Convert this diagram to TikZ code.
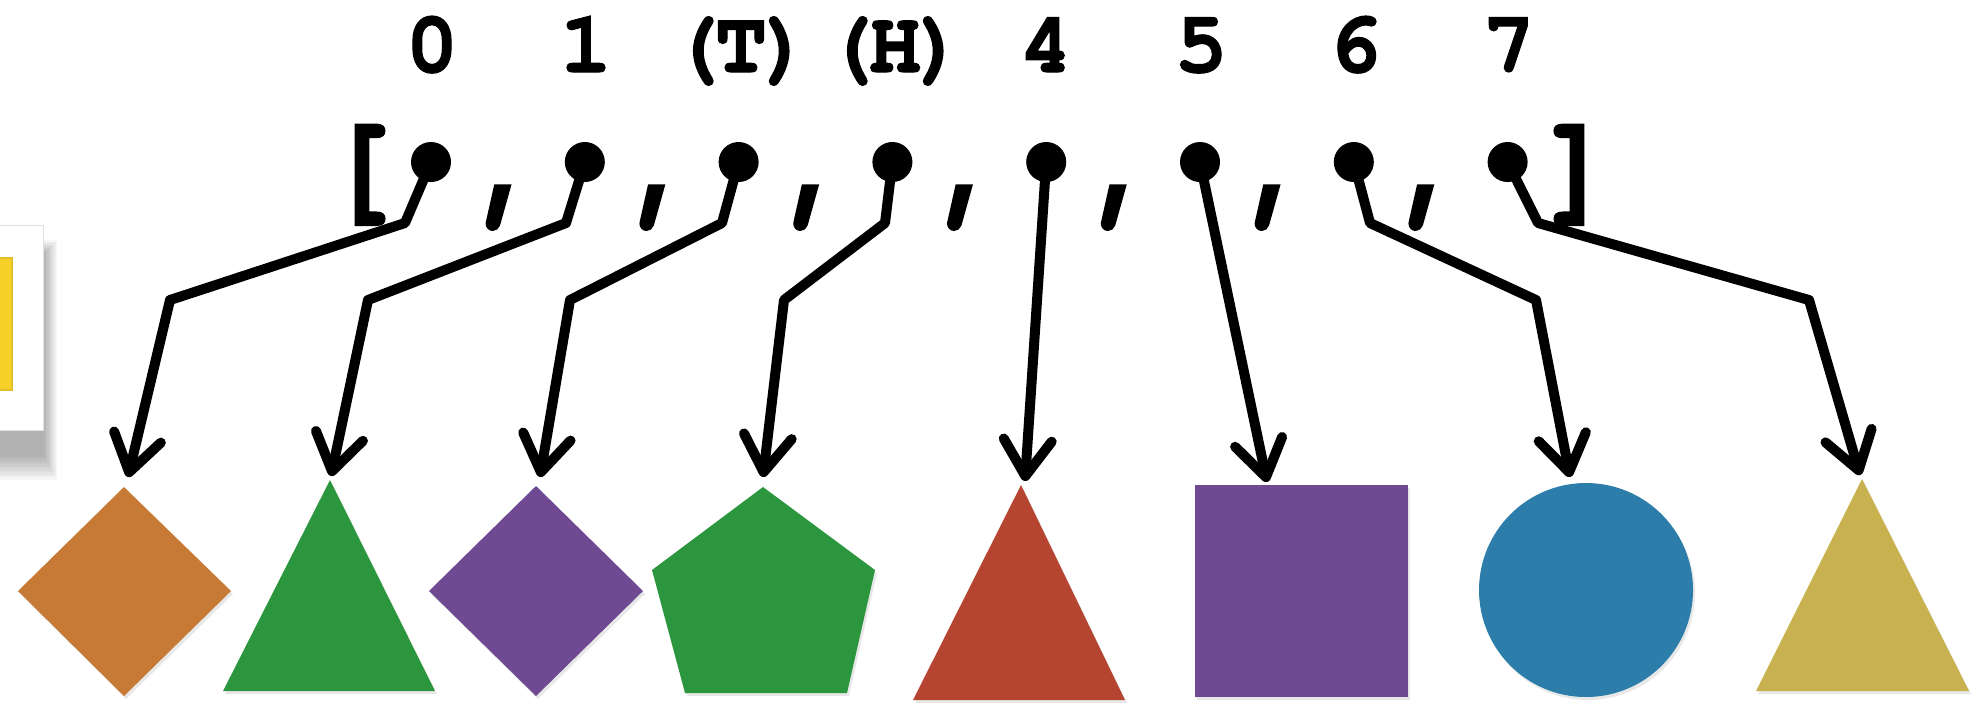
\documentclass[tikz,border=0pt]{standalone}
\usepackage{fontspec}
\newfontfamily\cursorbold{texgyrecursor-bold.otf}[FakeBold=1.2]
\newfontfamily\cursortight{texgyrecursor-bold.otf}[LetterSpace=-9.5,FakeBold=1.2]
\usetikzlibrary{arrows.meta,shadows}
\definecolor{feltorange}{RGB}{199,122,53}
\definecolor{feltgreen}{RGB}{44,150,62}
\definecolor{feltpurple}{RGB}{111,73,146}
\definecolor{feltred}{RGB}{181,68,48}
\definecolor{feltblue}{RGB}{44,125,170}
\definecolor{feltolive}{RGB}{200,178,80}
\definecolor{noteyellow}{RGB}{246,208,40}
\definecolor{noteedge}{RGB}{226,190,40}
\begin{document}
\begin{tikzpicture}[x=0.01cm,y=-0.01cm,
  dotnode/.style={circle,fill=black,inner sep=0pt,minimum size=0.4cm},
  conn/.style={line width=0.1cm,line join=round,line cap=round,
    -{Straight Barb[length=0.36cm,width=0.48cm,line cap=round,line join=round]}},
  idx/.style={font=\fontsize{25}{25}\selectfont\cursortight,inner sep=0pt,anchor=base},
  punct/.style={font=\fontsize{37}{37}\selectfont\cursorbold,inner sep=0pt,anchor=base},
  felt/.style={drop shadow={shadow xshift=0.02cm,shadow yshift=-0.03cm,opacity=0.18}}
]
\useasboundingbox (0,0) rectangle (1977,702);

% note card at the left edge, with its soft shadow
\foreach \k in {0,...,9}
  \fill[black,opacity=0.035] (-20,{240+\k*1.5}) rectangle ({57-1.4*\k},{480-2.6*\k});
\fill[white] (-10,225) rectangle (43,430);
\draw[black!12,line width=0.01cm] (-10,225) -- (43,225) -- (43,430) -- (-10,430);
\fill[noteyellow] (-10,258) rectangle (12,390);
\draw[noteedge,line width=0.015cm] (-10,258) -- (12,258) -- (12,390) -- (-10,390);

% index labels
\node[idx] (l0) at (432,72) {0};
\node[idx] (l1) at (586,72) {1};
\node[idx] (l2) at (741,72) {(T)};
\node[idx] (l3) at (895,72) {(H)};
\node[idx] (l4) at (1046,72) {4};
\node[idx] (l5) at (1201,72) {5};
\node[idx] (l6) at (1355,72) {6};
\node[idx] (l7) at (1509,72) {7};

% list brackets and separators
\node[punct] (lb) at (362,206) {[};
\node[punct] (rb) at (1577,206) {]};
\foreach \i in {0,...,6}
  \node[punct] (c\i) at ({431+153.8*(\i+0.5)},206) {,};

% list slots
\foreach \i in {0,...,7}
  \node[dotnode] (d\i) at ({431+153.8*\i},162) {};

% felt shapes
\fill[feltorange,felt] (18,591) -- (124,487) -- (231,591) -- (124,696) -- cycle;
\fill[feltgreen,felt] (223,691) -- (330,480) -- (435,691) -- cycle;
\fill[feltpurple,felt] (429,591) -- (536,486) -- (643,591) -- (536,696) -- cycle;
\fill[feltgreen,felt] (763,487) -- (875,570) -- (847,693) -- (685,693) -- (652,570) -- cycle;
\fill[feltred,felt] (913,700) -- (1021,485) -- (1125,700) -- cycle;
\fill[feltpurple,felt] (1195,485) rectangle (1408,697);
\fill[feltblue,felt] (1586,590) circle (107);
\fill[feltolive,felt] (1756,691) -- (1862,479) -- (1969,691) -- cycle;

% bends and arrow tips
\coordinate (a0) at (405,223); \coordinate (b0) at (170,300); \coordinate (t0) at (128,477);
\coordinate (a1) at (566,223); \coordinate (b1) at (368,300); \coordinate (t1) at (331,476);
\coordinate (a2) at (722,223); \coordinate (b2) at (570,300); \coordinate (t2) at (540,477);
\coordinate (a3) at (885,223); \coordinate (b3) at (784,300); \coordinate (t3) at (763,477);
\coordinate (t4) at (1025,481);
\coordinate (t5) at (1267,482);
\coordinate (a6) at (1370,223); \coordinate (b6) at (1536,300); \coordinate (t6) at (1570,477);
\coordinate (a7) at (1538,223); \coordinate (b7) at (1809,300); \coordinate (t7) at (1860,475);

% references from slots to objects
\draw[conn] (d0.center) -- (a0) -- (b0) -- (t0);
\draw[conn] (d1.center) -- (a1) -- (b1) -- (t1);
\draw[conn] (d2.center) -- (a2) -- (b2) -- (t2);
\draw[conn] (d3.center) -- (a3) -- (b3) -- (t3);
\draw[conn] (d4.center) -- (t4);
\draw[conn] (d5.center) -- (t5);
\draw[conn] (d6.center) -- (a6) -- (b6) -- (t6);
\draw[conn] (d7.center) -- (a7) -- (b7) -- (t7);
\end{tikzpicture}
\end{document}
